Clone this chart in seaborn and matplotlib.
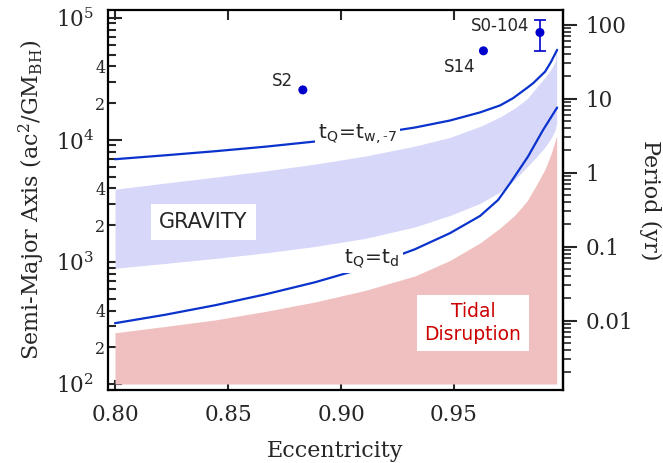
import numpy as np
import matplotlib
matplotlib.use('Agg')
import matplotlib.pyplot as plt
import matplotlib.ticker as mticker
import seaborn as sns

# Values (eccentricity, a in GM_BH/c^2)
band_e = [0.800, 0.8221, 0.8443, 0.8664, 0.8885, 0.9106, 0.9327, 0.9482, 0.9615,
          0.9704, 0.9770, 0.9823, 0.9867, 0.9903, 0.9929, 0.9947, 0.9954]
gravity_top_a = [3944, 4425, 4956, 5570, 6334, 7366, 8896, 10484, 12904,
                 15433, 18295, 21682, 27197, 32534, 37844, 43592, 62032]
gravity_bot_a = [888, 972, 1069, 1185, 1340, 1558, 1936, 2405, 3017,
                 3748, 4745, 6007, 7326, 8764, 10287, 11966, 13707]
tidal_a = [263, 296, 335, 393, 470, 584, 768, 1029, 1431,
           1900, 2428, 3162, 4359, 5785, 7678, 9813, 10684]
tidal_floor = 100

tw_e = [0.800, 0.8221, 0.8443, 0.8664, 0.8885, 0.9106, 0.9327, 0.9482, 0.9615,
        0.9704, 0.9761, 0.9823, 0.9850, 0.9903, 0.9929, 0.9956]
tw_a = [6948, 7477, 8079, 8796, 9703, 10928, 12635, 14421, 16803,
        19181, 21973, 26691, 29161, 36292, 43592, 54670]

td_e = [0.800, 0.8221, 0.8443, 0.8664, 0.8885, 0.9106, 0.9327, 0.9482, 0.9615,
        0.9695, 0.9748, 0.9827, 0.9894, 0.9956]
td_a = [315, 369, 442, 542, 682, 896, 1271, 1722, 2382,
        3223, 4417, 7298, 12078, 18400]

star_names = ['S2', 'S14', 'S0-104']
star_e = [0.8831, 0.963, 0.988]
star_a = [25700, 53700, 75900]
star_err_lo = [0, 0, 22000]
star_err_hi = [0, 0, 20000]

period_ticks = [0.01, 0.1, 1, 10, 100]
period_labels = ['0.01', '0.1', '1', '10', '100']

band_color = '#d7d7fa'
tidal_color = '#f0c0c0'
line_color = '#0a32cc'
star_color = '#0000cc'

sns.set_style('ticks')
plt.rcParams['font.family'] = ['DejaVu Serif']
plt.rcParams['mathtext.fontset'] = 'dejavuserif'

fig = plt.figure(figsize=(6.63, 4.63), dpi=100)
ax = fig.add_axes([108 / 663, 1 - 390 / 463, 455 / 663, 380 / 463])
ax.set_yscale('log')

# shaded regions
ax.fill_between(band_e, gravity_bot_a, gravity_top_a, color=band_color, lw=0, zorder=1)
ax.fill_between(band_e, tidal_a, tidal_floor, color=tidal_color, lw=0, zorder=1)

sns.lineplot(x=tw_e, y=tw_a, ax=ax, color=line_color, lw=1.6, sort=False, zorder=3)
sns.lineplot(x=td_e, y=td_a, ax=ax, color=line_color, lw=1.6, sort=False, zorder=3)

sns.scatterplot(x=star_e, y=star_a, ax=ax, color=star_color, s=42, edgecolor='none', zorder=5)
ax.errorbar(star_e[2], star_a[2], yerr=[[star_err_lo[2]], [star_err_hi[2]]], fmt='none',
            ecolor=star_color, elinewidth=1.2, capsize=4, capthick=1.2, zorder=5)

sans = ['DejaVu Sans']
ax.text(0.8739, 30500, star_names[0], family=sans, fontsize=12, ha='center', va='center')
ax.text(0.9527, 39600, star_names[1], family=sans, fontsize=12, ha='center', va='center')
ax.text(0.9704, 86000, star_names[2], family=sans, fontsize=12, ha='center', va='center')

box = dict(boxstyle='square,pad=0.4', fc='white', ec='none')
ax.text(0.839, 2130, 'GRAVITY', family=sans, fontsize=15, ha='center', va='center',
        bbox=box, zorder=6)
ax.text(0.9584, 316, 'Tidal\nDisruption', family=sans, fontsize=13.5, color='#cc0000',
        ha='center', va='center', linespacing=1.25, bbox=box, zorder=6)

lbox = dict(boxstyle='square,pad=0.15', fc='white', ec='none')
ax.text(0.9071, 11000, r'$\mathregular{t_Q\!=\!t_{w,\text{-}7}}$', family=sans, fontsize=14.5,
        ha='center', va='center', bbox=lbox, zorder=4)
ax.text(0.9137, 1060, r'$\mathregular{t_Q\!=\!t_d}$', family=sans, fontsize=14.5,
        ha='center', va='center', bbox=lbox, zorder=4)

ax.set_xlim(0.7969, 0.9982)
ax.set_ylim(89.3, 116000)
ax.set_xticks([0.80, 0.85, 0.90, 0.95])
ax.set_xticklabels(['0.80', '0.85', '0.90', '0.95'])
ax.xaxis.set_minor_locator(mticker.NullLocator())

ax.yaxis.set_major_locator(mticker.LogLocator(base=10, numticks=10))
ax.yaxis.set_minor_locator(mticker.LogLocator(base=10, subs=np.arange(2, 10), numticks=10))
ax.yaxis.set_minor_formatter(mticker.FuncFormatter(
    lambda v, p: str(int(round(v / 10 ** np.floor(np.log10(v) + 1e-9))))
    if round(v / 10 ** np.floor(np.log10(v) + 1e-9)) in (2, 4) else ''))

ax.tick_params(axis='x', which='major', direction='in', top=True, bottom=True,
               length=7, width=1.5, labelsize=15.5, pad=10)
ax.tick_params(axis='y', which='major', direction='in', left=True, right=False,
               length=10, width=1.5, labelsize=15.5, pad=10)
ax.tick_params(axis='y', which='minor', direction='in', left=True, right=False,
               length=6, width=1.5, labelsize=11.5, pad=2)
for side in ['left', 'bottom', 'top', 'right']:
    ax.spines[side].set_linewidth(1.6)
    ax.spines[side].set_color('black')

# period axis (P in yr, matched to the right-hand tick positions)
def a_to_p(a):
    return 10 ** (1.65 * (np.log10(np.clip(a, 1e-30, None)) - 3.732))

def p_to_a(p):
    return 10 ** (np.log10(np.clip(p, 1e-30, None)) / 1.65 + 3.732)

sec = ax.secondary_yaxis('right', functions=(a_to_p, p_to_a))
sec.set_yticks(period_ticks)
sec.set_yticklabels(period_labels)
sec.yaxis.set_minor_locator(mticker.LogLocator(base=10, subs=np.arange(2, 10), numticks=10))
sec.yaxis.set_minor_formatter(mticker.NullFormatter())
sec.tick_params(which='major', direction='out', length=10, width=1.5, labelsize=15.5, pad=6)
sec.tick_params(which='minor', direction='out', length=6, width=1.2)
sec.spines['right'].set_linewidth(1.6)
sec.set_ylabel('Period (yr)', fontsize=16, rotation=270, labelpad=20)

ax.set_xlabel('Eccentricity', fontsize=16, labelpad=10)
ax.set_ylabel(r'Semi-Major Axis (ac$^2$/GM$_{\mathregular{BH}}$)', fontsize=16, labelpad=6)

fig.savefig('out.png', dpi=100)
